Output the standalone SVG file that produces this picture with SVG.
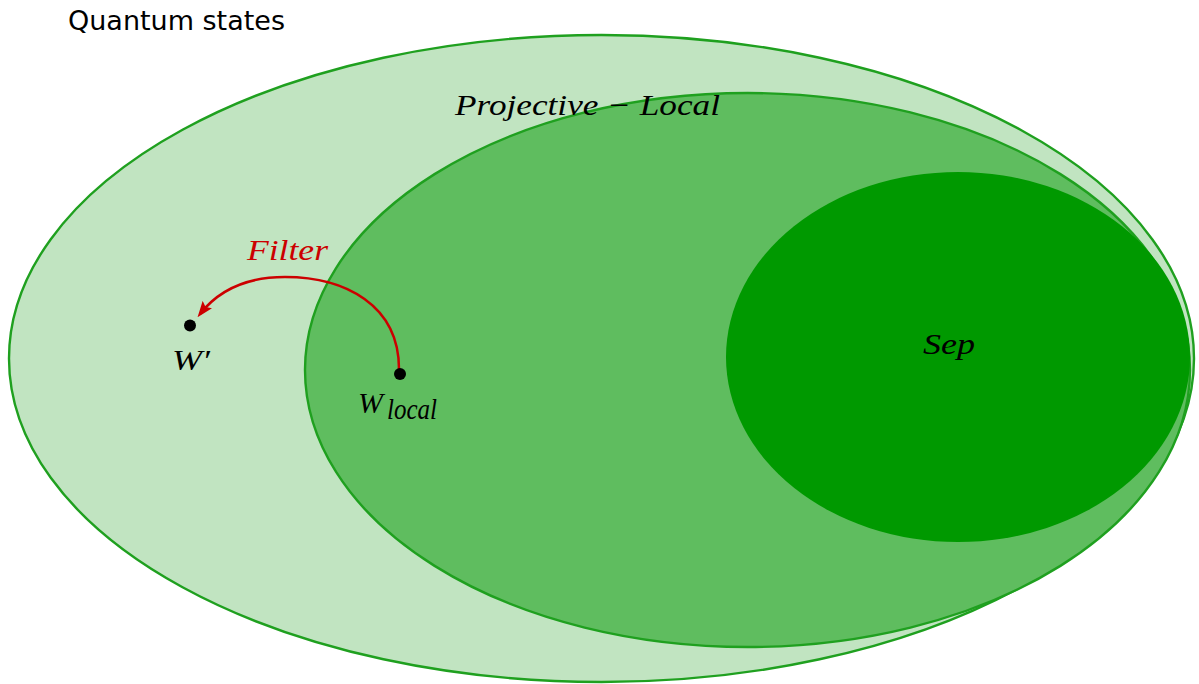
<svg xmlns="http://www.w3.org/2000/svg" width="1199" height="684" viewBox="0 0 1199 684">
<style>
.set{stroke:#1fa01f;stroke-width:2.4}
.math{font-family:"Liberation Serif","DejaVu Serif",serif;font-style:italic;font-size:30px;fill:#000}
.title{font-family:"DejaVu Sans","Liberation Sans",sans-serif;font-size:27px;fill:#000}
</style>
<defs>
<marker id="ah" markerWidth="16" markerHeight="14" refX="12" refY="7" orient="auto" markerUnits="userSpaceOnUse" viewBox="0 0 16 14">
<path d="M0,1 L16,7 L0,13 L3,7 Z" fill="#cc0000"/>
</marker>
</defs>
<rect width="1199" height="684" fill="#fff"/>
<g id="quantum">
<ellipse cx="601.5" cy="358.5" rx="592.5" ry="323.5" fill="#c1e4c1" class="set"/>
<text x="68" y="30" class="title" textLength="217" lengthAdjust="spacingAndGlyphs">Quantum states</text>
</g>
<g id="projective">
<ellipse cx="747.5" cy="370" rx="442.5" ry="277" fill="#5fbd5f" class="set"/>
<text x="455" y="115" class="math" textLength="265" lengthAdjust="spacingAndGlyphs">Projective − Local</text>
</g>
<g id="sep">
<ellipse cx="958" cy="357" rx="232" ry="185" fill="#009900"/>
<text x="923" y="354" class="math" textLength="52" lengthAdjust="spacingAndGlyphs">Sep</text>
</g>
<g id="connectors">
<path d="M399,369 C399,305 345,277 285,277 C245,277 218,291 200,314" fill="none" stroke="#cc0000" stroke-width="2.5" marker-end="url(#ah)"/>
<text x="247" y="260" class="math" style="fill:#cc0000" textLength="81" lengthAdjust="spacingAndGlyphs">Filter</text>
</g>
<g id="wprime">
<circle cx="190" cy="325.5" r="6" fill="#000"/>
<text x="172" y="370" class="math" font-size="32" textLength="38" lengthAdjust="spacingAndGlyphs">W′</text>
</g>
<g id="wlocal">
<circle cx="400" cy="374" r="6" fill="#000"/>
<text x="358" y="413" class="math" font-size="32">W</text>
<text x="387" y="419" class="math" font-size="22" textLength="50" lengthAdjust="spacingAndGlyphs">local</text>
</g>
</svg>
